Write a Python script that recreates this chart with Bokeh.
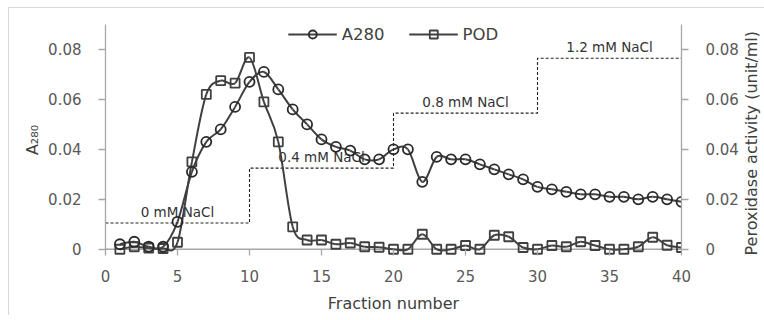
import math
from bokeh.plotting import figure
from bokeh.layouts import column
from bokeh.models import (ColumnDataSource, Range1d, LinearAxis, FixedTicker,
                          NumeralTickFormatter, Legend, LegendItem, Span)
from bokeh.core.properties import value
from bokeh.embed import file_html
from bokeh.resources import INLINE

# ---------------- data ----------------
fractions = list(range(1, 41))
a280 = [0.002, 0.003, 0.001, 0.001, 0.011, 0.031, 0.043, 0.048, 0.057, 0.067,
        0.071, 0.064, 0.056, 0.050, 0.044, 0.041, 0.0395, 0.036, 0.036, 0.040,
        0.040, 0.027, 0.037, 0.036, 0.036, 0.034, 0.032, 0.030, 0.028, 0.025,
        0.024, 0.023, 0.022, 0.022, 0.021, 0.021, 0.020, 0.021, 0.020, 0.019]
pod = [0.0, 0.001, 0.0005, 0.0003, 0.0028, 0.035, 0.062, 0.0675, 0.0665, 0.0768,
       0.059, 0.043, 0.009, 0.0037, 0.0037, 0.002, 0.0025, 0.001, 0.0008, 0.0,
       0.0, 0.006, 0.0, 0.0, 0.0015, 0.0, 0.0056, 0.005, 0.0007, 0.0,
       0.0015, 0.001, 0.003, 0.0015, 0.0, 0.0, 0.001, 0.0048, 0.0016, 0.0007]
nacl_edges = [0, 10, 20, 30, 40]
nacl_levels = [0.0105, 0.0325, 0.0545, 0.0765]
nacl_labels = ["0 mM NaCl", "0.4 mM NaCl", "0.8 mM NaCl", "1.2 mM NaCl"]
x_ticks = [0, 5, 10, 15, 20, 25, 30, 35, 40]
y_ticks = [0, 0.02, 0.04, 0.06, 0.08]

FONT = "DejaVu Sans"
SERIES = "#404040"
AXIS = "#a6a6a6"
TICKTXT = "#595959"


def smooth(xs, ys, t=1.0 / 6.0):
    """Bezier segments (Catmull-Rom style) through the data points."""
    n = len(xs)
    d = dict(x0=[], y0=[], x1=[], y1=[], cx0=[], cy0=[], cx1=[], cy1=[])
    for i in range(n - 1):
        ip = max(i - 1, 0)
        i2 = min(i + 2, n - 1)
        d["x0"].append(xs[i]); d["y0"].append(ys[i])
        d["x1"].append(xs[i + 1]); d["y1"].append(ys[i + 1])
        d["cx0"].append(xs[i] + (xs[i + 1] - xs[ip]) * t)
        d["cy0"].append(ys[i] + (ys[i + 1] - ys[ip]) * t)
        d["cx1"].append(xs[i + 1] - (xs[i2] - xs[i]) * t)
        d["cy1"].append(ys[i + 1] - (ys[i2] - ys[i]) * t)
    return ColumnDataSource(d)


p = figure(output_backend="svg", toolbar_location=None,
           frame_width=576, frame_height=231,
           min_border_left=96, min_border_right=82,
           min_border_top=16, min_border_bottom=60,
           x_range=Range1d(0, 40), y_range=Range1d(-0.0025, 0.09),
           x_axis_location=None, y_axis_location=None)
p.outline_line_color = None
p.xgrid.visible = False
p.ygrid.visible = False
p.background_fill_color = "white"
p.border_fill_color = "white"


def style_axis(ax):
    ax.axis_line_color = AXIS
    ax.axis_line_width = 1.3
    ax.major_tick_line_color = AXIS
    ax.major_tick_line_width = 1.3
    ax.major_tick_in = 0
    ax.major_tick_out = 7
    ax.minor_tick_line_color = None
    ax.major_label_text_font = FONT
    ax.major_label_text_font_size = "15px"
    ax.major_label_text_color = TICKTXT
    ax.axis_label_text_font = FONT
    ax.axis_label_text_font_size = "16px"
    ax.axis_label_text_font_style = "normal"
    ax.axis_label_text_color = "#404040"


xax = LinearAxis(ticker=FixedTicker(ticks=x_ticks), axis_label="Fraction number")
style_axis(xax)
xax.axis_line_color = None
xax.major_tick_in = 6
xax.major_tick_out = 0
xax.major_label_standoff = 14
xax.axis_label_standoff = 9
p.add_layout(xax, "below")
p.add_layout(Span(location=0, dimension="width", line_color=AXIS, line_width=1.3,
                  level="underlay"))

yax = LinearAxis(ticker=FixedTicker(ticks=y_ticks), axis_label="A\u2082\u2088\u2080",
                 formatter=NumeralTickFormatter(format="0.[00]"))
style_axis(yax)
yax.bounds = (0, 0.09)
yax.major_label_standoff = 17
yax.axis_label_standoff = 3
p.add_layout(yax, "left")

yax2 = LinearAxis(ticker=FixedTicker(ticks=y_ticks),
                  formatter=NumeralTickFormatter(format="0.[00]"),
                  axis_label="Peroxidase activity (unit/ml)")
style_axis(yax2)
yax2.bounds = (0, 0.09)
yax2.major_label_standoff = 17
yax2.axis_label_standoff = 10
yax2.axis_label_orientation = math.pi / 2
yax2.axis_label_align = "start"
p.add_layout(yax2, "right")

# NaCl step gradient
step_x = nacl_edges
step_y = nacl_levels + [nacl_levels[-1]]
p.step(step_x, step_y, mode="after", line_color="#222222", line_width=1.1,
       line_dash="3 2")
lab_x = [(a + b) / 2 for a, b in zip(nacl_edges[:-1], nacl_edges[1:])]
p.text(x=lab_x, y=nacl_levels, text=nacl_labels, text_font=value(FONT),
       text_font_size="13.5px", text_color="#333333", text_align="center",
       text_baseline="bottom", y_offset=-3)

# POD
pod_curve = p.bezier("x0", "y0", "x1", "y1", "cx0", "cy0", "cx1", "cy1",
                     source=smooth(fractions, pod), line_color=SERIES, line_width=2)
pod_pts = p.scatter(fractions, pod, marker="square", size=9, line_color=SERIES,
                    line_width=1.8, fill_color=None)
# A280
a_curve = p.bezier("x0", "y0", "x1", "y1", "cx0", "cy0", "cx1", "cy1",
                   source=smooth(fractions, a280), line_color=SERIES, line_width=2)
a_pts = p.scatter(fractions, a280, marker="circle", size=10, line_color="#2a2a2a",
                  line_width=1.8, fill_color=None)

legend = Legend(items=[LegendItem(label="A280", renderers=[a_curve, a_pts]),
                       LegendItem(label="POD", renderers=[pod_curve, pod_pts])],
                location="top_center", orientation="horizontal",
                glyph_width=49, glyph_height=20, label_standoff=5, spacing=24,
                padding=2, margin=0, border_line_color=None,
                background_fill_alpha=0,
                label_text_font=FONT, label_text_font_size="16.5px",
                label_text_color="#404040")
p.add_layout(legend, "center")

page = column(p, styles={"border-top": "1px solid #d9d9d9",
                         "border-left": "1px solid #d9d9d9",
                         "margin-left": "8px", "margin-top": "7px"})

open("out.html", "w").write(file_html(page, INLINE))
